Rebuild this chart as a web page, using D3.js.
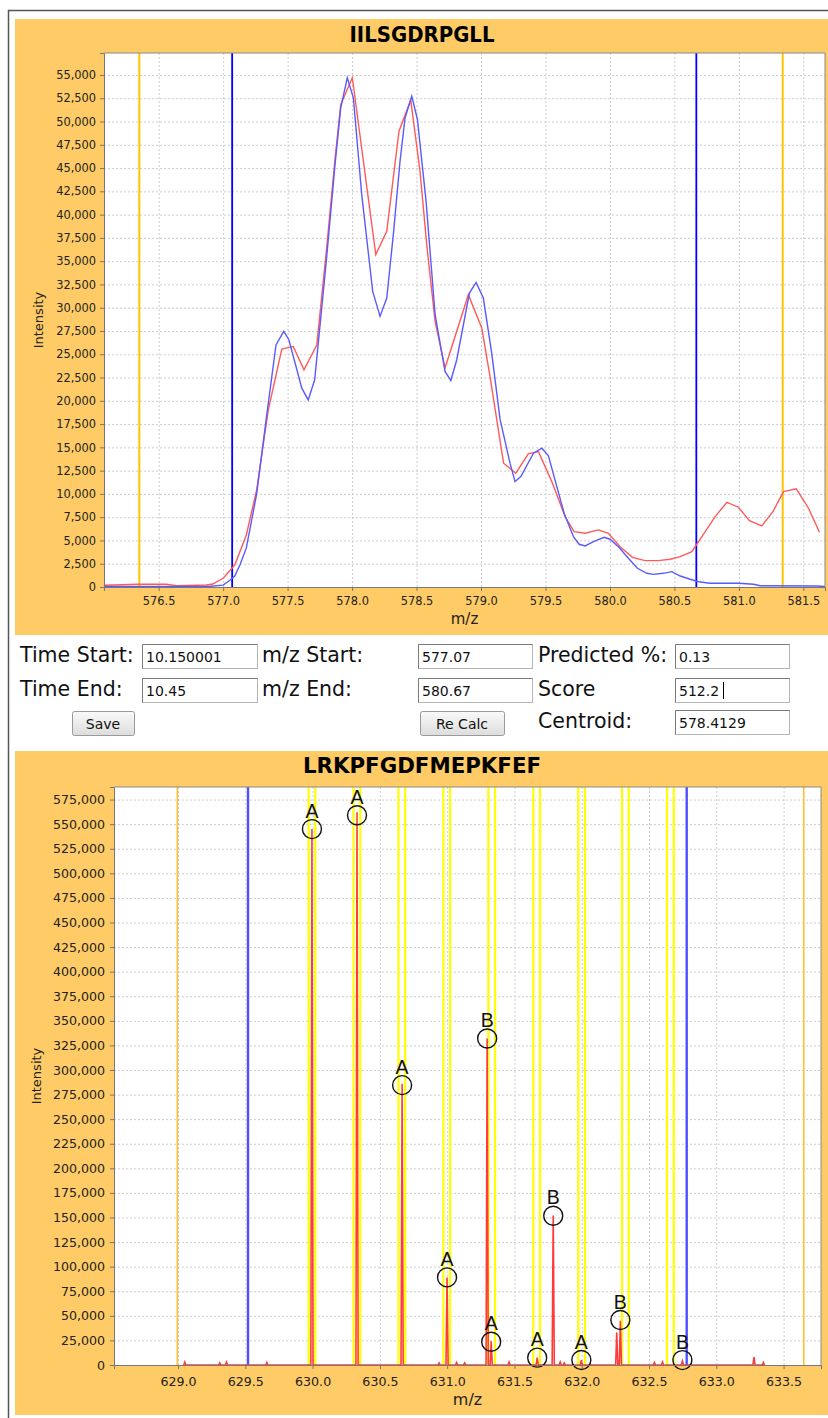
<!DOCTYPE html>
<html>
<head>
<meta charset="utf-8">
<script src="https://cdn.jsdelivr.net/npm/d3@7"></script>
<style>
  body { margin: 0; background: #fff; }
  svg { display: block; }
</style>
</head>
<body>
<svg id="chart" width="828" height="1418"></svg>
<script>
// ---- top chart: IILSGDRPGLL ----
const topTitle = 'IILSGDRPGLL';
const topRedMz = [576.076, 576.34, 576.56, 576.64, 576.87, 576.92, 577.0, 577.09, 577.18, 577.26, 577.35, 577.455,
  577.544, 577.627, 577.726, 577.80, 577.868, 577.912, 578.002, 578.184, 578.269, 578.364, 578.455, 578.527,
  578.579, 578.644, 578.721, 578.902, 579.006, 579.07, 579.175, 579.27, 579.367, 579.445, 579.549, 579.652,
  579.722, 579.808, 579.911, 579.988, 580.079, 580.175, 580.273, 580.376, 580.467, 580.545, 580.635, 580.713,
  580.816, 580.907, 580.996, 581.082, 581.178, 581.264, 581.346, 581.445, 581.54, 581.625];
const topRedInt = [180, 290, 290, 140, 220, 320, 935, 2360, 5590, 10430, 19000, 25550,
  25840, 23330, 26000, 36000, 46000, 51830, 54700, 35700, 38200, 48960, 52300, 44660,
  36770, 28530, 23520, 31400, 27820, 22610, 13300, 12220, 14300, 14550, 11320, 7560,
  5950, 5770, 6130, 5770, 4330, 3190, 2830, 2830, 2980, 3260, 3800, 5410,
  7560, 9100, 8570, 7130, 6560, 8100, 10250, 10540, 8460, 5880];
const topBlueMz = [576.076, 576.6, 576.9, 577.0, 577.05, 577.09, 577.13, 577.18, 577.26, 577.33, 577.41, 577.47,
  577.51, 577.61, 577.66, 577.71, 577.80, 577.868, 577.912, 577.963, 578.01, 578.075, 578.16, 578.217,
  578.269, 578.32, 578.372, 578.411, 578.463, 578.507, 578.574, 578.644, 578.721, 578.766, 578.812, 578.91,
  578.962, 579.018, 579.083, 579.148, 579.225, 579.264, 579.309, 579.407, 579.472, 579.523, 579.588, 579.645,
  579.717, 579.761, 579.808, 579.872, 579.955, 580.0, 580.066, 580.143, 580.213, 580.286, 580.337, 580.415,
  580.48, 580.545, 580.622, 580.687, 580.777, 581.0, 581.113, 581.165, 581.605, 581.668];
const topBlueInt = [50, 50, 80, 200, 700, 1180, 2360, 4200, 10000, 17600, 26000, 27450,
  26560, 21360, 20100, 22260, 34980, 45380, 51470, 54700, 52550, 42150, 31750, 29070,
  31040, 37850, 45730, 50390, 52720, 50220, 41430, 29250, 23150, 22180, 24410, 31580,
  32720, 31040, 25130, 18000, 13300, 11320, 11860, 14370, 14910, 14090, 10780, 7920,
  5410, 4590, 4410, 4870, 5340, 5130, 4330, 3090, 2010, 1470, 1360, 1470,
  1650, 1180, 830, 570, 400, 400, 290, 140, 100, 50];
const topRangeMz = [577.07, 580.67];
const topOuterMz = [576.35, 581.34];
const topXTicks = [576.5, 577.0, 577.5, 578.0, 578.5, 579.0, 579.5, 580.0, 580.5, 581.0, 581.5];
const topYTicks = [0, 2500, 5000, 7500, 10000, 12500, 15000, 17500, 20000, 22500, 25000, 27500,
  30000, 32500, 35000, 37500, 40000, 42500, 45000, 47500, 50000, 52500, 55000];

// ---- form ----
const formLabels = ['Time Start:', 'm/z Start:', 'Predicted %:', 'Time End:', 'm/z End:', 'Score', 'Centroid:'];
const formValues = ['10.150001', '577.07', '0.13', '10.45', '580.67', '512.2', '578.4129'];
const formButtons = ['Save', 'Re Calc'];

// ---- bottom chart: LRKPFGDFMEPKFEF ----
const botTitle = 'LRKPFGDFMEPKFEF';
const botPeakMz = [629.05, 629.31, 629.36, 629.66, 629.995, 630.33, 630.665, 630.94, 630.999, 631.07, 631.13,
  631.297, 631.327, 631.46, 631.669, 631.788, 631.84, 631.87, 631.997, 632.26, 632.287, 632.54, 632.6,
  632.748, 633.28, 633.35];
const botPeakInt = [3000, 2000, 3000, 2500, 545000, 562000, 286000, 2000, 89000, 2500, 2000,
  332000, 24000, 3000, 7500, 152000, 3000, 2000, 5000, 33000, 45000, 2500, 3000,
  4000, 8000, 2500];
const botWindowMz = [629.995, 630.329, 630.663, 630.997, 631.331, 631.665, 631.999, 632.324, 632.659];
const botRangeMz = [629.52, 632.78];
const botOuterMz = [628.995, 633.65];
const botLabelMz = [629.995, 630.33, 630.665, 630.999, 631.297, 631.327, 631.669, 631.788, 631.997, 632.287, 632.748];
const botLabelInt = [545000, 559000, 284600, 89100, 332000, 23700, 7460, 151800, 5080, 45700, 5000];
const botLabelTxt = ['A', 'A', 'A', 'A', 'B', 'A', 'A', 'B', 'A', 'B', 'B'];
const botXTicks = [629.0, 629.5, 630.0, 630.5, 631.0, 631.5, 632.0, 632.5, 633.0, 633.5];
const botYTicks = [0, 25000, 50000, 75000, 100000, 125000, 150000, 175000, 200000, 225000, 250000, 275000,
  300000, 325000, 350000, 375000, 400000, 425000, 450000, 475000, 500000, 525000, 550000, 575000];

const FONT = '"DejaVu Sans", sans-serif';
const ORANGE = '#fecb66';
const svg = d3.select('#chart');

// outer frame
svg.append('line').attr('x1', 8).attr('x2', 828).attr('y1', 10.5).attr('y2', 10.5).attr('stroke', '#555').attr('stroke-width', 1.5);
svg.append('line').attr('x1', 8.5).attr('x2', 8.5).attr('y1', 10).attr('y2', 1418).attr('stroke', '#555').attr('stroke-width', 1.5);

function drawPanel(p) {
  const g = svg.append('g');
  g.append('rect').attr('x', 15).attr('y', p.panelTop).attr('width', 813).attr('height', p.panelH).attr('fill', ORANGE);

  const x = d3.scaleLinear().domain(p.xDomain).range([p.left, p.right]);
  const y = d3.scaleLinear().domain([0, p.yMax]).range([p.bottom, p.top]);
  const w = p.right - p.left, h = p.bottom - p.top;

  g.append('rect').attr('x', p.left).attr('y', p.top).attr('width', w).attr('height', h).attr('fill', '#fff');

  // dashed grid
  g.append('g').attr('transform', `translate(0,${p.bottom})`)
    .call(d3.axisBottom(x).tickValues(p.xTicks).tickSize(-h).tickFormat(''))
    .call(s => { s.select('.domain').remove(); s.selectAll('line').attr('stroke', '#cdcdcd').attr('stroke-dasharray', '2,2'); });
  g.append('g').attr('transform', `translate(${p.left},0)`)
    .call(d3.axisLeft(y).tickValues(p.yTicks).tickSize(-w).tickFormat(''))
    .call(s => { s.select('.domain').remove(); s.selectAll('line').attr('stroke', '#cdcdcd').attr('stroke-dasharray', '2,2'); });

  const clipId = 'clip' + p.panelTop;
  g.append('clipPath').attr('id', clipId).append('rect').attr('x', p.left).attr('y', p.top).attr('width', w).attr('height', h);
  const plot = g.append('g').attr('clip-path', `url(#${clipId})`);

  // title
  g.append('text').attr('x', 422).attr('y', p.titleY).attr('text-anchor', 'middle')
    .attr('font-family', FONT).attr('font-weight', 'bold').attr('font-size', 22)
    .attr('textLength', p.titleLen).attr('lengthAdjust', 'spacingAndGlyphs').text(p.title);

  return { g, plot, x, y };
}

function drawAxes(c, p) {
  const xa = c.g.append('g').attr('transform', `translate(0,${p.bottom})`)
    .call(d3.axisBottom(c.x).tickValues(p.xTicks).tickFormat(d3.format('.1f')).tickSize(4).tickPadding(p.xPad));
  const ya = c.g.append('g').attr('transform', `translate(${p.left},0)`)
    .call(d3.axisLeft(c.y).tickValues(p.yTicks).tickFormat(d3.format(',')).tickSize(4).tickPadding(p.yPad));
  [xa, ya].forEach(a => {
    a.attr('font-family', FONT).attr('font-size', p.tickFont);
    a.select('.domain').attr('stroke', '#777');
    a.selectAll('.tick line').attr('stroke', '#777');
    a.selectAll('.tick text').attr('fill', '#222');
  });
  // top / right border
  c.g.append('path').attr('d', `M${p.left},${p.top}H${p.right}V${p.bottom}`).attr('fill', 'none').attr('stroke', '#8a8a8a');

  c.g.append('text').attr('transform', `translate(${p.yLabelX},${(p.top + p.bottom) / 2}) rotate(-90)`)
    .attr('text-anchor', 'middle').attr('font-family', FONT).attr('font-size', 13).attr('fill', '#222').text('Intensity');
  c.g.append('text').attr('x', (p.left + p.right) / 2).attr('y', p.xLabelY)
    .attr('text-anchor', 'middle').attr('font-family', FONT).attr('font-size', p.xLabelFont).attr('fill', '#222').text('m/z');
}

function vlines(c, p, vals, color, width) {
  c.plot.selectAll(null).data(vals).enter().append('line')
    .attr('x1', d => c.x(d)).attr('x2', d => c.x(d))
    .attr('y1', p.top).attr('y2', p.bottom)
    .attr('stroke', color).attr('stroke-width', width);
}

// ===== top chart =====
const pTop = {
  panelTop: 19, panelH: 616, left: 104, right: 825, top: 53, bottom: 587,
  xDomain: [576.076, 581.668], yMax: 57360, xTicks: topXTicks, yTicks: topYTicks,
  title: topTitle, titleY: 41.5, titleLen: 145, tickFont: 11.4, xPad: 6, yPad: 4,
  yLabelX: 43, xLabelY: 624, xLabelFont: 15
};
const cTop = drawPanel(pTop);
vlines(cTop, pTop, topOuterMz, '#ffc400', 2);
vlines(cTop, pTop, topRangeMz, '#0000ff', 1.8);

const lineTop = d3.line().x(d => cTop.x(d[0])).y(d => cTop.y(d[1]));
cTop.plot.append('path').datum(d3.zip(topRedMz, topRedInt)).attr('d', lineTop)
  .attr('fill', 'none').attr('stroke', '#ff5a5a').attr('stroke-width', 1.4);
cTop.plot.append('path').datum(d3.zip(topBlueMz, topBlueInt)).attr('d', lineTop)
  .attr('fill', 'none').attr('stroke', '#5a5aff').attr('stroke-width', 1.4);
drawAxes(cTop, pTop);

// ===== form =====
const slotRow = [0, 0, 0, 1, 1, 1, 2], slotCol = [0, 1, 2, 0, 1, 2, 2];
const labelX = [20, 262, 538], boxX = [142, 418, 675], boxW = [115, 114, 114];
const rowTop = [644, 678, 710];
const form = svg.append('g').attr('font-family', FONT);
formLabels.forEach((t, i) => {
  form.append('text').attr('x', labelX[slotCol[i]]).attr('y', rowTop[slotRow[i]] + 18)
    .attr('font-size', 20.5).attr('fill', '#111').text(t);
});
formValues.forEach((t, i) => {
  const bx = boxX[slotCol[i]], by = rowTop[slotRow[i]];
  form.append('rect').attr('x', bx + 0.5).attr('y', by + 0.5).attr('width', boxW[slotCol[i]]).attr('height', 24)
    .attr('fill', '#fff').attr('stroke', '#b5b5b5');
  form.append('path').attr('d', `M${bx + 0.5},${by + 24.5}V${by + 0.5}H${bx + boxW[slotCol[i]] + 0.5}`)
    .attr('fill', 'none').attr('stroke', '#7a7a7a');
  form.append('text').attr('x', bx + 4).attr('y', by + 17.5).attr('font-size', 14).attr('fill', '#111').text(t);
});
// text cursor in Score field
form.append('line').attr('x1', 723.5).attr('x2', 723.5).attr('y1', rowTop[1] + 4).attr('y2', rowTop[1] + 21).attr('stroke', '#000');

const btnX = [72, 420], btnW = [62, 84];
const grad = svg.append('defs').append('linearGradient').attr('id', 'btnGrad').attr('x1', 0).attr('x2', 0).attr('y1', 0).attr('y2', 1);
grad.append('stop').attr('offset', '0%').attr('stop-color', '#fafafa');
grad.append('stop').attr('offset', '100%').attr('stop-color', '#dcdcdc');
formButtons.forEach((t, i) => {
  form.append('rect').attr('x', btnX[i] + 0.5).attr('y', 711.5).attr('width', btnW[i]).attr('height', 24).attr('rx', 2)
    .attr('fill', 'url(#btnGrad)').attr('stroke', '#9a9a9a');
  form.append('text').attr('x', btnX[i] + btnW[i] / 2).attr('y', 729).attr('text-anchor', 'middle')
    .attr('font-size', 14).attr('fill', '#111').text(t);
});

// ===== bottom chart =====
const pBot = {
  panelTop: 751, panelH: 664, left: 114, right: 821, top: 787, bottom: 1365,
  xDomain: [628.524, 633.778], yMax: 587800, xTicks: botXTicks, yTicks: botYTicks,
  title: botTitle, titleY: 772.5, titleLen: 238, tickFont: 12.6, xPad: 8, yPad: 5,
  yLabelX: 41, xLabelY: 1405, xLabelFont: 16
};
const cBot = drawPanel(pBot);
vlines(cBot, pBot, botOuterMz, '#ffc030', 1.6);
// extraction windows (pairs of yellow lines)
const winEdges = [];
botWindowMz.forEach(m => { winEdges.push(m - 0.025, m + 0.025); });
vlines(cBot, pBot, winEdges, '#ffff00', 2.2);
vlines(cBot, pBot, botRangeMz, '#4f4fff', 2.4);

// spectrum spikes
const spikePts = [];
d3.zip(botPeakMz, botPeakInt).forEach(([m, v]) => {
  spikePts.push([m - 0.008, 0], [m, v], [m + 0.008, 0]);
});
cBot.plot.append('path').datum(spikePts)
  .attr('d', d3.line().x(d => cBot.x(d[0])).y(d => cBot.y(d[1])))
  .attr('fill', 'none').attr('stroke', '#ff3a3a').attr('stroke-width', 1.6);

// annotations
const ann = cBot.g.append('g');
d3.range(botLabelMz.length).forEach(i => {
  const cx = cBot.x(botLabelMz[i]), cy = cBot.y(botLabelInt[i]);
  ann.append('circle').attr('cx', cx).attr('cy', cy).attr('r', 9.5)
    .attr('fill', 'none').attr('stroke', '#111').attr('stroke-width', 1.4);
  ann.append('text').attr('x', cx).attr('y', cy - 11.5).attr('text-anchor', 'middle')
    .attr('font-family', '"Liberation Sans", sans-serif').attr('font-size', 19.5).attr('fill', '#111').text(botLabelTxt[i]);
});
drawAxes(cBot, pBot);
</script>
</body>
</html>
